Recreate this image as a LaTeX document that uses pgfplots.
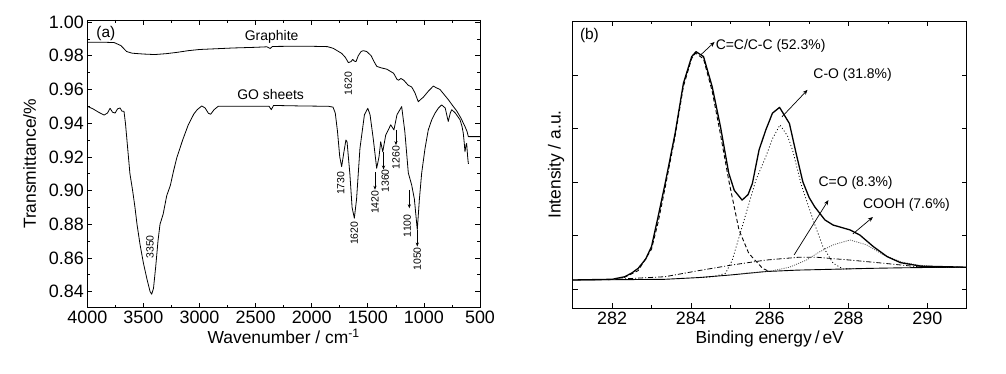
\documentclass[border=0pt]{standalone}
\usepackage{fontspec}
\setmainfont{Liberation Sans}
\usepackage{pgfplots}
\pgfplotsset{compat=1.18}
\usetikzlibrary{arrows.meta}
\pgfplotsset{
  every axis/.append style={
    scale only axis, axis line style={black, line width=0.9bp},
    tick align=inside, tick style={black, line width=0.7bp},
    major tick length=5bp, minor tick length=3bp,
    /pgf/number format/assume math mode=true,
    ticklabel style={font=\fontsize{18}{20}\selectfont},
    label style={font=\fontsize{17.5}{20}\selectfont},
    every axis plot/.append style={no marks, line join=round},
  }
}
\newcommand{\pk}{\fontsize{10.5}{12}\selectfont}
\newcommand{\an}{\fontsize{14}{16}\selectfont}
\begin{document}
\begin{tikzpicture}[x=1bp,y=1bp]
\path[use as bounding box] (0,0) rectangle (1006,373);
% ---------------- (a) FTIR ----------------
\begin{axis}[at={(87.3bp,65.3bp)}, anchor=south west,
  width=392.7bp, height=287.7bp,
  xmin=500, xmax=4000, x dir=reverse,
  ymin=0.8305, ymax=1.0012,
  xtick={500,1000,1500,2000,2500,3000,3500,4000},
  minor x tick num=1,
  ytick={0.84,0.86,0.88,0.90,0.92,0.94,0.96,0.98,1.00},
  minor y tick num=1,
  yticklabel style={/pgf/number format/.cd, fixed, fixed zerofill, precision=2},
  xticklabel style={/pgf/number format/.cd, 1000 sep={}},
  scaled y ticks=false,
  xlabel={Wavenumber / cm\textsuperscript{-1}},
  ylabel={Transmittance/\%},
  xlabel style={yshift=2bp},
  ylabel style={yshift=6bp},
  clip=false]
\addplot[black, line width=0.8bp] coordinates {
(4000,0.988)(3850,0.988)(3760,0.9878)(3700,0.986)(3650,0.9825)(3600,0.9815)
(3500,0.981)(3400,0.9807)(3300,0.9812)(3200,0.982)(3100,0.983)(3000,0.9837)
(2900,0.9840)(2700,0.9846)(2500,0.985)(2400,0.9853)(2370,0.9843)(2350,0.9855)
(2200,0.9856)(2000,0.9856)(1860,0.9854)(1808,0.9844)(1733,0.9814)(1700,0.979)
(1673,0.9759)(1650,0.9765)(1635,0.9778)(1620,0.9768)(1605,0.9765)(1585,0.980)
(1560,0.9825)(1540,0.983)(1510,0.9825)(1470,0.980)(1440,0.976)(1420,0.9737)
(1380,0.9728)(1330,0.972)(1270,0.9696)(1240,0.9660)(1225,0.9655)(1205,0.9665)
(1180,0.9655)(1140,0.9625)(1108,0.9614)(1080,0.958)(1050,0.9527)(1030,0.9540)
(1005,0.9554)(960,0.959)(916,0.962)(890,0.961)(857,0.960)(820,0.957)
(783,0.954)(745,0.9505)(708,0.9473)(670,0.943)(634,0.938)(615,0.935)
(604,0.932)(500,0.932)};
\addplot[black, line width=0.8bp] coordinates {
(4000,0.950)(3950,0.9485)(3900,0.9465)(3850,0.9448)(3820,0.946)(3797,0.9488)
(3775,0.9465)(3752,0.946)(3730,0.9485)(3708,0.949)(3690,0.947)(3673,0.947)
(3660,0.940)(3640,0.925)(3620,0.910)(3596,0.900)(3575,0.890)(3557,0.880)
(3530,0.868)(3500,0.857)(3470,0.848)(3440,0.840)(3426,0.8385)(3410,0.842)
(3390,0.855)(3370,0.870)(3352,0.880)(3324,0.886)(3292,0.897)(3260,0.903)
(3230,0.912)(3200,0.920)(3150,0.930)(3100,0.939)(3050,0.9455)(3020,0.948)
(2980,0.9502)(2950,0.949)(2920,0.9458)(2900,0.9453)(2870,0.948)(2833,0.950)
(2600,0.950)(2380,0.950)(2360,0.948)(2340,0.9505)(2100,0.9502)(1850,0.950)
(1810,0.9495)(1790,0.946)(1770,0.935)(1750,0.920)(1733,0.9142)(1715,0.922)
(1695,0.930)(1685,0.929)(1660,0.910)(1640,0.890)(1620,0.8836)(1600,0.895)
(1570,0.925)(1530,0.945)(1500,0.9488)(1480,0.945)(1450,0.930)(1421,0.9132)
(1400,0.920)(1385,0.929)(1367,0.923)(1340,0.933)(1310,0.937)(1296,0.939)
(1267,0.936)(1240,0.945)(1198,0.9498)(1170,0.935)(1139,0.9105)(1109,0.9033)
(1085,0.895)(1059,0.8767)(1040,0.895)(1020,0.9103)(990,0.925)(961,0.936)
(930,0.942)(901,0.9459)(870,0.949)(842,0.9508)(810,0.949)(790,0.943)
(783,0.941)(765,0.946)(752,0.948)(720,0.946)(678,0.942)(660,0.938)
(649,0.934)(640,0.928)(634,0.923)(625,0.927)(619,0.928)(610,0.920)
(604,0.916)(600,0.916)};
\node[anchor=west, font=\fontsize{15.5}{17}\selectfont, inner sep=0pt] at (axis cs:3920,0.9933) {(a)};
\node[font=\an] at (axis cs:2357,0.9909) {Graphite};
\node[font=\an] at (axis cs:2366,0.9567) {GO sheets};
\node[rotate=90, font=\pk] at (axis cs:1674,0.9636) {1620};
\node[rotate=90, font=\pk] at (axis cs:3441,0.8666) {3350};
\node[rotate=90, font=\pk] at (axis cs:1742,0.9043) {1730};
\node[rotate=90, font=\pk] at (axis cs:1620,0.8747) {1620};
\node[rotate=90, font=\pk] at (axis cs:1436,0.8930) {1420};
\node[rotate=90, font=\pk] at (axis cs:1345,0.9057) {1360};
\node[rotate=90, font=\pk] at (axis cs:1249,0.9196) {1260};
\node[rotate=90, font=\pk] at (axis cs:1148,0.8791) {1100};
\node[rotate=90, font=\pk] at (axis cs:1059,0.8595) {1050};
\tikzset{pa/.style={-{Stealth[length=4bp,width=3.2bp]}, line width=0.6bp}}
\draw[pa] (axis cs:1436,0.911) -- (axis cs:1436,0.9005);
\draw[pa] (axis cs:1360,0.923) -- (axis cs:1360,0.9125);
\draw[pa] (axis cs:1249,0.936) -- (axis cs:1249,0.927);
\draw[pa] (axis cs:1130,0.9004) -- (axis cs:1130,0.8895);
\draw[pa] (axis cs:1059,0.8767) -- (axis cs:1059,0.8668);
\end{axis}
% ---------------- (b) XPS ----------------
\begin{axis}[at={(572.7bp,65bp)}, anchor=south west,
  width=394bp, height=287bp,
  xmin=281, xmax=291, ymin=0, ymax=1,
  xtick={282,284,286,288,290}, minor x tick num=1,
  ytick={0.066,0.252,0.439,0.625,0.812}, yticklabels={},
  minor y tick num=1,
  xlabel={Binding energy\,/\,eV},
  ylabel={Intensity / a.u.},
  xlabel style={yshift=0bp},
  ylabel style={yshift=-2bp},
  clip=false]
% baseline
\addplot[black, line width=0.9bp] coordinates {
(281,0.0976)(282,0.0985)(283.34,0.100)(284.19,0.106)(285.0,0.115)(285.9,0.127)
(286.7,0.132)(287.61,0.135)(288.5,0.138)(289.32,0.140)(290.2,0.1415)(291,0.142)};
% C=O component (dash dot)
\addplot[black, line width=0.8bp, dash pattern=on 5bp off 2bp on 1bp off 2bp] coordinates {
(281.9,0.0985)(282.5,0.103)(283.34,0.109)(284.19,0.130)(285.05,0.150)(285.9,0.167)
(286.75,0.177)(287.18,0.177)(288.04,0.167)(288.89,0.156)(289.74,0.144)(291,0.142)};
% COOH component
\addplot[black!65, line width=0.8bp, dash pattern=on 1bp off 1.2bp] coordinates {
(285.3,0.12)(285.73,0.125)(286.07,0.13)(286.5,0.142)(286.93,0.167)(287.27,0.196)
(287.61,0.22)(288.04,0.237)(288.46,0.22)(288.89,0.185)(289.32,0.161)(289.74,0.150)
(290.2,0.144)(291,0.142)};
% C-O component
\addplot[black, line width=0.8bp, dash pattern=on 1bp off 2.2bp] coordinates {
(284.3,0.106)(284.6,0.110)(284.88,0.121)(285.05,0.167)(285.3,0.283)(285.65,0.446)
(285.9,0.527)(286.07,0.59)(286.26,0.638)(286.45,0.60)(286.58,0.55)(286.8,0.43)
(287.1,0.307)(287.35,0.214)(287.61,0.156)(287.86,0.136)(288.2,0.137)};
% C=C component
\addplot[black, line width=0.9bp, dash pattern=on 4bp off 2.5bp] coordinates {
(282.3,0.106)(282.66,0.13)(283.0,0.205)(283.17,0.30)(283.34,0.415)(283.6,0.60)
(283.81,0.772)(284.02,0.870)(284.12,0.888)(284.32,0.868)(284.54,0.755)(284.75,0.605)
(284.96,0.445)(285.22,0.272)(285.47,0.19)(285.82,0.138)(285.98,0.128)};
% envelope
\addplot[black, line width=1.3bp] coordinates {
(281,0.0976)(282,0.100)(282.32,0.109)(282.5,0.122)(282.66,0.138)(282.85,0.17)
(283.0,0.214)(283.17,0.32)(283.34,0.43)(283.6,0.609)(283.81,0.783)(284.02,0.876)
(284.13,0.893)(284.32,0.876)(284.54,0.771)(284.75,0.632)(284.96,0.47)(285.1,0.41)
(285.3,0.376)(285.45,0.395)(285.56,0.434)(285.73,0.551)(285.9,0.620)(286.07,0.679)
(286.25,0.699)(286.5,0.643)(286.67,0.539)(286.84,0.44)(287.0,0.385)(287.14,0.353)
(287.4,0.307)(287.61,0.289)(288.04,0.272)(288.29,0.254)(288.63,0.214)(288.98,0.179)
(289.32,0.158)(289.83,0.146)(291,0.142)};
\tikzset{ba/.style={-{Stealth[length=5bp,width=4bp]}, line width=0.7bp}}
\draw[ba] (axis cs:284.25,0.882) -- (axis cs:284.60,0.927);
\draw[ba] (axis cs:286.31,0.666) -- (axis cs:286.96,0.760);
\draw[ba] (axis cs:286.62,0.185) -- (axis cs:287.49,0.376);
\draw[ba] (axis cs:288.11,0.258) -- (axis cs:288.62,0.317);
\node[anchor=west, font=\an, inner sep=1pt] at (axis cs:284.60,0.913) {C=C/C-C (52.3\%)};
\node[anchor=west, font=\an, inner sep=1pt] at (axis cs:287.08,0.812) {C-O (31.8\%)};
\node[anchor=west, font=\an, inner sep=1pt] at (axis cs:287.21,0.436) {C=O (8.3\%)};
\node[anchor=west, font=\an, inner sep=1pt] at (axis cs:288.34,0.359) {COOH (7.6\%)};
\node[anchor=west, font=\fontsize{15.5}{17}\selectfont, inner sep=0pt] at (axis cs:281.18,0.951) {(b)};
\end{axis}
\end{tikzpicture}
\end{document}
